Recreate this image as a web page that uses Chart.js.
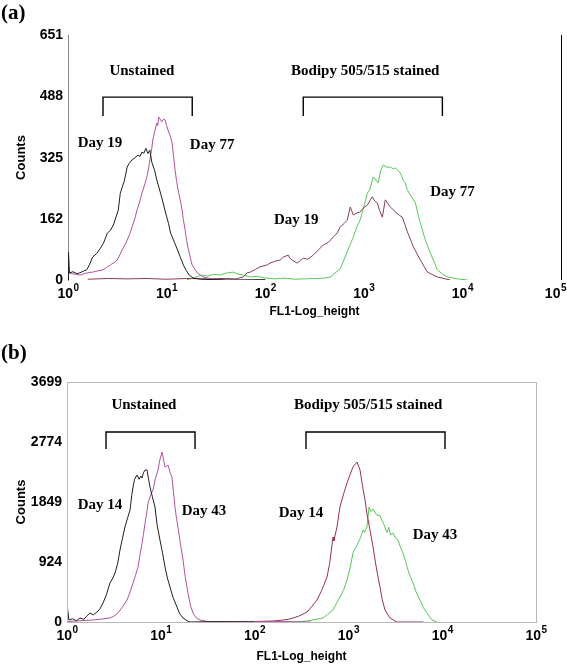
<!DOCTYPE html>
<html><head><meta charset="utf-8">
<script src="https://cdn.jsdelivr.net/npm/chart.js@4.4.0/dist/chart.umd.min.js"></script>
<style>
html,body{margin:0;padding:0;background:#fff;}
#wrap{position:relative;width:567px;height:665px;overflow:hidden;background:#fff;}
.panel{position:absolute;left:0;}
.tag{position:absolute;left:1px;font:bold 21px "Liberation Serif",serif;line-height:1;color:#000;}
</style></head><body>
<div id="wrap">
<canvas id="ca" class="panel" width="567" height="330" style="top:0"></canvas>
<canvas id="cb" class="panel" width="567" height="335" style="top:330px"></canvas>
<div class="tag" style="top:2px">(a)</div>
<div class="tag" style="top:342px">(b)</div>
</div>
<script>
// ---------- DATA (x in log10 decades of FL1-Log_height, y in counts) ----------
const xTickExponents = [0, 1, 2, 3, 4, 5];
const yTicksA = [0, 162, 325, 488, 651];
const yTicksB = [0, 924, 1849, 2774, 3699];

// Panel (a)
const aDay19Unstained = [[0,0],[0.005,74],[0.015,19],[0.05,22],[0.09,17],[0.12,19],[0.16,24],[0.19,27],[0.22,42],[0.25,61],[0.29,70],[0.33,85],[0.36,98],[0.40,125],[0.43,132],[0.46,146],[0.49,170],[0.51,186],[0.53,230],[0.55,247],[0.57,262],[0.60,300],[0.62,310],[0.65,319],[0.68,325],[0.71,332],[0.73,328],[0.75,340],[0.77,337],[0.79,350],[0.81,336],[0.83,345],[0.85,313],[0.88,290],[0.90,266],[0.93,239],[0.96,210],[0.99,178],[1.02,150],[1.04,125],[1.08,100],[1.11,80],[1.14,60],[1.17,40],[1.20,25],[1.23,13],[1.27,5],[1.35,2],[1.6,0],[2.0,1]];
const aDay77Unstained = [[0,0],[0.005,19],[0.06,16],[0.12,13],[0.18,18],[0.25,21],[0.30,24],[0.355,27],[0.39,33],[0.43,40],[0.47,47],[0.50,53],[0.55,80],[0.58,95],[0.60,106],[0.63,125],[0.65,141],[0.68,165],[0.70,186],[0.73,210],[0.75,231],[0.78,255],[0.80,274],[0.82,300],[0.83,319],[0.85,350],[0.86,372],[0.88,395],[0.90,417],[0.91,410],[0.92,433],[0.94,425],[0.95,420],[0.97,428],[0.985,425],[1.00,410],[1.015,398],[1.04,380],[1.056,364],[1.07,330],[1.086,292],[1.10,265],[1.117,239],[1.14,210],[1.157,186],[1.17,160],[1.188,133],[1.20,110],[1.218,85],[1.24,60],[1.259,40],[1.29,28],[1.31,19],[1.37,8],[1.45,3],[1.6,0]];
const aDay19Stained = [[0.2,2],[0.4,4],[0.6,3],[0.8,4],[1.0,2],[1.2,4],[1.4,3],[1.6,4],[1.7,3],[1.777,8],[1.817,19],[1.848,21],[1.90,28],[1.949,35],[2.02,40],[2.05,45],[2.10,50],[2.152,53],[2.183,61],[2.234,66],[2.25,58],[2.274,53],[2.325,45],[2.36,52],[2.386,58],[2.43,55],[2.487,66],[2.54,80],[2.589,93],[2.64,100],[2.69,114],[2.73,125],[2.761,141],[2.80,150],[2.832,159],[2.863,194],[2.893,173],[2.93,178],[2.964,181],[2.995,191],[3.036,199],[3.086,221],[3.11,210],[3.137,205],[3.16,185],[3.188,167],[3.218,213],[3.269,194],[3.32,181],[3.36,172],[3.391,167],[3.442,128],[3.503,88],[3.574,53],[3.645,21],[3.746,8],[3.878,0]];
const aDay77Stained = [[1.20,0],[1.24,3],[1.30,8],[1.36,13],[1.42,10],[1.48,15],[1.54,13],[1.60,18],[1.67,21],[1.72,16],[1.78,13],[1.85,8],[1.92,10],[2.0,5],[2.1,3],[2.2,5],[2.3,2],[2.4,3],[2.5,4],[2.6,5],[2.66,8],[2.761,30],[2.832,75],[2.893,114],[2.93,141],[2.964,160],[3.00,194],[3.036,231],[3.06,239],[3.096,274],[3.147,258],[3.17,290],[3.198,306],[3.23,300],[3.269,300],[3.30,295],[3.32,298],[3.35,290],[3.371,284],[3.40,265],[3.421,258],[3.44,240],[3.472,226],[3.50,215],[3.523,205],[3.55,175],[3.574,151],[3.60,128],[3.624,106],[3.675,72],[3.71,50],[3.746,27],[3.80,15],[3.848,8],[3.949,3],[4.05,0]];

// Panel (b)
const bDay14Unstained = [[0,0],[0.005,216],[0.02,31],[0.06,50],[0.10,20],[0.139,62],[0.18,40],[0.21,90],[0.245,139],[0.28,110],[0.32,154],[0.35,200],[0.384,293],[0.42,420],[0.458,601],[0.49,680],[0.512,755],[0.54,900],[0.565,1110],[0.59,1280],[0.618,1464],[0.645,1600],[0.672,1726],[0.69,1950],[0.704,2080],[0.72,2200],[0.746,2265],[0.77,2200],[0.785,2250],[0.80,2219],[0.815,2300],[0.832,2342],[0.853,2342],[0.87,2200],[0.885,2080],[0.91,1930],[0.938,1772],[0.96,1500],[0.991,1264],[1.02,1050],[1.045,847],[1.07,680],[1.098,539],[1.13,380],[1.173,231],[1.20,130],[1.237,62],[1.28,20],[1.311,0],[1.5,5],[2.0,0]];
const bDay43Unstained = [[0,0],[0.032,10],[0.15,20],[0.277,31],[0.37,45],[0.458,62],[0.50,90],[0.544,139],[0.59,230],[0.64,339],[0.67,450],[0.704,601],[0.73,720],[0.757,847],[0.78,1050],[0.80,1217],[0.815,1350],[0.832,1526],[0.85,1680],[0.864,1834],[0.89,1950],[0.917,2034],[0.94,2200],[0.97,2342],[0.99,2500],[1.013,2620],[1.03,2500],[1.045,2388],[1.06,2400],[1.077,2419],[1.10,2300],[1.119,2234],[1.135,2000],[1.151,1772],[1.167,1600],[1.183,1464],[1.21,1200],[1.237,955],[1.26,700],[1.29,447],[1.315,260],[1.343,139],[1.38,60],[1.418,31],[1.524,0],[2.2,8],[2.6,0]];
const bDay14Stained = [[1.5,0],[1.844,3],[2.0,8],[2.196,15],[2.30,30],[2.377,46],[2.47,90],[2.559,154],[2.61,240],[2.665,339],[2.72,500],[2.772,693],[2.80,900],[2.836,1310],[2.845,1250],[2.878,1464],[2.91,1772],[2.95,1980],[2.985,2142],[3.02,2280],[3.049,2388],[3.092,2466],[3.124,2342],[3.15,2100],[3.177,1880],[3.20,1650],[3.23,1418],[3.26,1180],[3.284,955],[3.31,740],[3.337,539],[3.36,350],[3.39,185],[3.443,62],[3.518,0],[3.8,0]];
const bDay43Stained = [[2.2,0],[2.45,5],[2.559,15],[2.65,40],[2.729,62],[2.78,120],[2.836,185],[2.87,280],[2.91,385],[2.95,500],[2.985,647],[3.02,850],[3.049,1063],[3.08,1150],[3.102,1217],[3.13,1300],[3.156,1418],[3.17,1380],[3.198,1464],[3.22,1772],[3.24,1700],[3.262,1740],[3.30,1650],[3.337,1640],[3.36,1560],[3.38,1500],[3.40,1418],[3.412,1380],[3.43,1460],[3.45,1340],[3.475,1372],[3.50,1300],[3.529,1264],[3.555,1150],[3.582,1063],[3.61,930],[3.635,801],[3.66,700],[3.689,601],[3.72,470],[3.763,339],[3.80,220],[3.838,139],[3.891,31],[3.945,0]];

// ---------- RENDERING ----------
const toPts = arr => arr.map(p => ({x: p[0], y: p[1]}));
const SANS = '"Liberation Sans", Arial, sans-serif';

const annotPlugin = {
  id: 'annot',
  afterDatasetsDraw(chart, args, o) {
    const {ctx, chartArea: {left, right, top, bottom}, scales: {x, y}} = chart;
    ctx.save();
    ctx.lineWidth = 1;
    if (o.box) {
      ctx.strokeStyle = o.boxColor;
      ctx.strokeRect(Math.round(left) + 0.5, Math.round(top) + 0.5, Math.round(right - left), Math.round(bottom - top));
    }
    if (o.rightLine) {
      ctx.strokeStyle = '#000';
      ctx.beginPath();
      ctx.moveTo(Math.round(right) + 0.5, top);
      ctx.lineTo(Math.round(right) + 0.5, bottom);
      ctx.stroke();
    }
    ctx.strokeStyle = '#000';
    ctx.lineWidth = 1.4;
    for (const b of o.brackets) {
      const x1 = x.getPixelForValue(b.x0), x2 = x.getPixelForValue(b.x1);
      const y1 = y.getPixelForValue(b.yTop), y2 = y.getPixelForValue(b.yBot);
      ctx.beginPath();
      ctx.moveTo(x1, y2); ctx.lineTo(x1, y1); ctx.lineTo(x2, y1); ctx.lineTo(x2, y2);
      ctx.stroke();
    }
    ctx.fillStyle = '#000';
    ctx.font = 'bold 15px "Liberation Serif", serif';
    ctx.textAlign = 'center';
    ctx.textBaseline = 'middle';
    for (const t of o.labels) {
      ctx.fillText(t.text, x.getPixelForValue(t.x), y.getPixelForValue(t.y));
    }
    // x tick labels: 10 with a raised exponent, placed by the x scale
    ctx.textAlign = 'left';
    ctx.textBaseline = 'alphabetic';
    const W = chart.width;
    for (const e of xTickExponents) {
      const px = x.getPixelForValue(e);
      ctx.font = 'bold 14px ' + SANS;
      const wb = ctx.measureText('10').width;
      ctx.font = 'bold 10px ' + SANS;
      const we = ctx.measureText(String(e)).width;
      let sx = px - (wb + we) / 2;
      if (sx + wb + we > W - 1) sx = W - 1 - wb - we;
      ctx.font = 'bold 14px ' + SANS;
      ctx.fillText('10', sx, bottom + 18);
      ctx.font = 'bold 10px ' + SANS;
      ctx.fillText(String(e), sx + wb + 0.5, bottom + 11);
    }
    ctx.restore();
  }
};

function makeChart(id, series, yTicks, cfg) {
  const datasets = series.map(s => ({
    data: toPts(s.data), borderColor: s.color, borderWidth: 1, pointRadius: 0,
    tension: 0, fill: false
  }));
  return new Chart(document.getElementById(id), {
    type: 'line',
    data: {datasets},
    plugins: [annotPlugin],
    options: {
      responsive: false, animation: false, events: [],
      layout: {padding: cfg.padding},
      plugins: {legend: {display: false}, tooltip: {enabled: false}, annot: cfg.annot},
      scales: {
        x: {
          type: 'linear', min: 0, max: 5,
          grid: {display: false, drawTicks: false},
          border: {display: false},
          afterBuildTicks: s => { s.ticks = xTickExponents.map(v => ({value: v})); },
          afterFit: s => { s.height = cfg.xHeight; s.paddingLeft = 0; s.paddingRight = 0; },
          ticks: {display: false},
          title: {display: true, text: 'FL1-Log_height', color: '#000',
            font: {family: SANS, weight: 'bold', size: 12},
            padding: {top: 0, bottom: cfg.xTitlePad}}
        },
        y: {
          type: 'linear', min: 0, max: yTicks[yTicks.length - 1],
          grid: {display: false, drawTicks: false},
          border: {display: cfg.yBorder, color: '#888'},
          afterBuildTicks: s => { s.ticks = yTicks.map(v => ({value: v})); },
          afterFit: s => { s.width = cfg.yWidth; },
          ticks: {padding: 5, color: '#000', callback: v => String(v),
            font: {family: SANS, weight: 'bold', size: 14}},
          title: {display: true, text: 'Counts', color: '#000',
            font: {family: SANS, weight: 'bold', size: 13},
            padding: {top: 14, bottom: 0}}
        }
      }
    }
  });
}

makeChart('ca', [
  {data: aDay19Unstained, color: '#1e1e1e'},
  {data: aDay77Unstained, color: '#b1539f'},
  {data: aDay19Stained, color: '#8a3c50'},
  {data: aDay77Stained, color: '#55c955'}
], yTicksA, {
  padding: {left: 0, right: 6, top: 35, bottom: 0},
  xHeight: 50, yWidth: 68, xTitlePad: 11, yBorder: true,
  annot: {
    box: false, rightLine: true,
    brackets: [{x0: 0.355, x1: 1.26, yTop: 486, yBot: 436}, {x0: 2.386, x1: 3.797, yTop: 486, yBot: 436}],
    labels: [
      {text: 'Unstained', x: 0.75, y: 555},
      {text: 'Bodipy 505/515 stained', x: 3.015, y: 555},
      {text: 'Day 19', x: 0.325, y: 364},
      {text: 'Day 77', x: 1.462, y: 359},
      {text: 'Day 19', x: 2.315, y: 159},
      {text: 'Day 77', x: 3.90, y: 234}
    ]
  }
});

makeChart('cb', [
  {data: bDay14Unstained, color: '#1e1e1e'},
  {data: bDay43Unstained, color: '#b1539f'},
  {data: bDay14Stained, color: '#9a2f55'},
  {data: bDay43Stained, color: '#55c955'}
], yTicksB, {
  padding: {left: 0, right: 31, top: 52, bottom: 0},
  xHeight: 43, yWidth: 67, xTitlePad: 1, yBorder: false,
  annot: {
    box: true, boxColor: '#b8b8b8', rightLine: false,
    brackets: [{x0: 0.416, x1: 1.365, yTop: 2928, yBot: 2666}, {x0: 2.548, x1: 4.03, yTop: 2928, yBot: 2666}],
    labels: [
      {text: 'Unstained', x: 0.82, y: 3344},
      {text: 'Bodipy 505/515 stained', x: 3.21, y: 3344},
      {text: 'Day 14', x: 0.352, y: 1803},
      {text: 'Day 43', x: 1.46, y: 1711},
      {text: 'Day 14', x: 2.495, y: 1680},
      {text: 'Day 43', x: 3.923, y: 1341}
    ]
  }
});
</script>
</body></html>
